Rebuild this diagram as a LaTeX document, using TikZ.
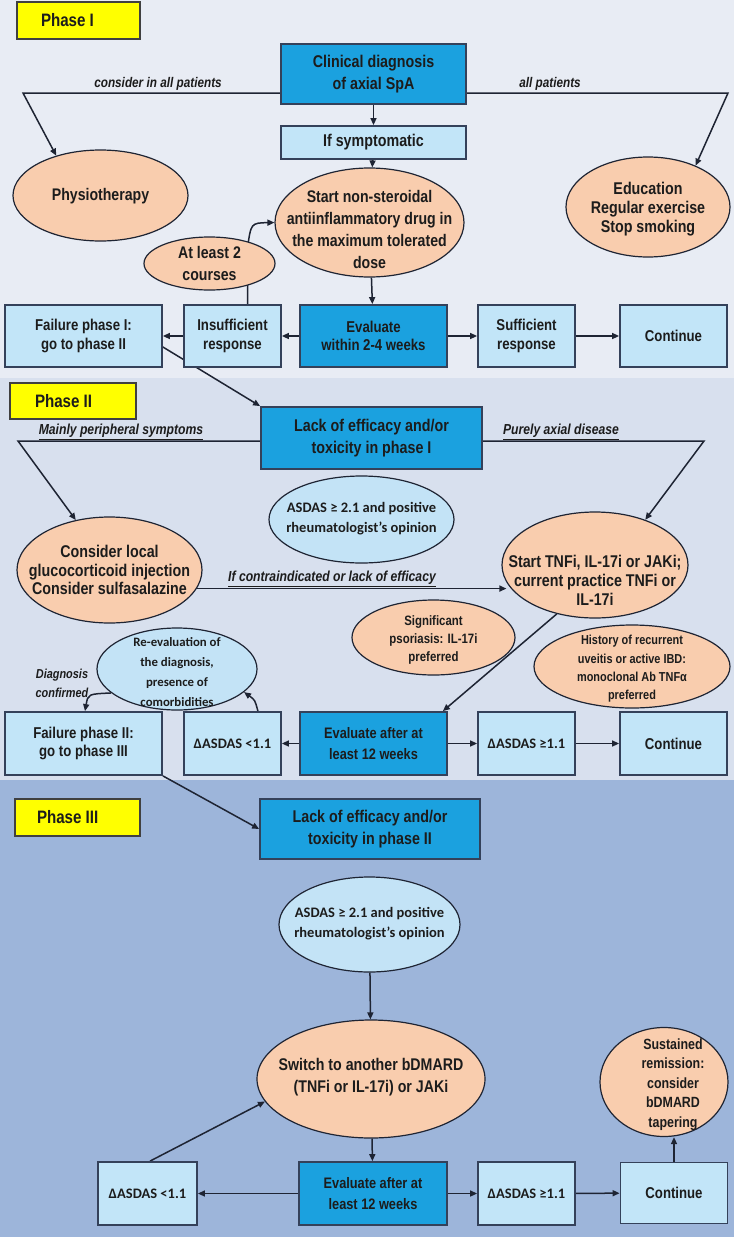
\documentclass[tikz,border=0pt]{standalone}
\usepackage{fontspec}
\setmainfont{Liberation Sans}[FakeStretch=0.84]
\newfontfamily\calfont{Carlito}
\usetikzlibrary{shapes.geometric,arrows.meta,calc}
\pgfdeclarelayer{back}
\pgfdeclarelayer{edges}
\pgfsetlayers{back,edges,main}
\definecolor{bgA}{HTML}{E8ECF4}
\definecolor{bgB}{HTML}{D8E0EE}
\definecolor{bgC}{HTML}{9DB5DA}
\definecolor{dkbox}{HTML}{1BA1DF}
\definecolor{ltbox}{HTML}{C2E5F8}
\definecolor{peach}{HTML}{F9CDAE}
\definecolor{ltell}{HTML}{C3E3F6}
\definecolor{ink}{HTML}{1E2433}
\definecolor{bord}{HTML}{34415A}
\definecolor{yel}{HTML}{FFFF00}
\definecolor{txt}{HTML}{1C1C1C}
\newcommand{\ct}[2][0pt]{\raisebox{\dimexpr#1-5pt\relax}[0pt][0pt]{\makebox[0pt]{\begin{tabular}{@{}c@{}}#2\end{tabular}}}}
\newcommand{\ctx}[3]{\raisebox{\dimexpr#2-5pt\relax}[0pt][0pt]{\makebox[0pt]{\hspace*{#1}\begin{tabular}{@{}c@{}}#3\end{tabular}}}}
\tikzset{
  box/.style={draw=bord, line width=1.8pt, inner sep=0pt, align=center, text=txt,
    font=\bfseries\fontsize{15.7}{18.3}\selectfont},
  dbox/.style={box, fill=dkbox},
  lbox/.style={box, fill=ltbox},
  oval/.style={ellipse, draw=ink, line width=1.2pt, inner sep=0pt, fill=peach, text=txt,
    font=\bfseries\fontsize{16.8}{21.7}\selectfont},
  bval/.style={oval, fill=ltell},
  phase/.style={draw=black!75, line width=1.8pt, fill=yel, inner sep=0pt, text=txt,
    font=\bfseries\fontsize{18}{20}\selectfont},
  ln/.style={draw=ink, line width=1.5pt},
  arr/.style={ln, -{Triangle[length=7pt,width=6pt]}},
  lab/.style={inner sep=1pt, text=txt, font=\bfseries\itshape\fontsize{14}{16}\selectfont},
  big/.style={font=\bfseries\fontsize{17}{22}\selectfont},
  asd/.style={font=\calfont\bfseries\fontsize{14.5}{20}\selectfont},
}
\begin{document}
\begin{tikzpicture}[x=1pt,y=-1pt]
\useasboundingbox (0,0) rectangle (734,1237);
\begin{pgfonlayer}{back}
\fill[bgA] (0,0) rectangle (734,378);
\fill[bgB] (0,378) rectangle (734,780);
\fill[bgC] (0,780) rectangle (734,1237);
\end{pgfonlayer}

% ---------------- Phase I
\node[phase, minimum width=123pt, minimum height=37pt] (p1) at (78.5,20.5) {\makebox[75pt][l]{Phase I}};
\node[dbox, big, minimum width=185pt, minimum height=60pt] (clin) at (373.5,74) {Clinical diagnosis\\of axial SpA};
\node[lbox, big, minimum width=185pt, minimum height=33pt] (symp) at (373.5,142.5) {If symptomatic};
\node[oval, minimum width=175pt, minimum height=91pt] (physio) at (100.5,195.5) {\ct{Physiotherapy}};
\node[oval, minimum width=189pt, minimum height=109pt] (nsaid) at (369.5,222.5) {\ct[-8pt]{Start non-steroidal\\antiinflammatory drug in\\the maximum tolerated\\dose}};
\node[oval, minimum width=164pt, minimum height=100pt, font=\bfseries\fontsize{17}{18.6}\selectfont] (edu) at (648,207) {\ct[-2pt]{Education\\Regular exercise\\Stop smoking}};
\node[oval, minimum width=131pt, minimum height=53pt] (courses) at (209.5,263.5) {\ct[-1pt]{At least 2\\courses}};

\node[lbox, minimum width=157pt, minimum height=62pt] (fail1) at (83.5,336) {Failure phase I:\\go to phase II};
\node[lbox, minimum width=97pt, minimum height=62pt] (insuf) at (232.5,336) {Insufficient\\response};
\node[dbox, minimum width=147pt, minimum height=62pt] (eval1) at (373.5,336) {Evaluate\\within 2-4 weeks};
\node[lbox, minimum width=97pt, minimum height=62pt] (suff) at (526.5,336) {Sufficient\\response};
\node[lbox, minimum width=107pt, minimum height=62pt] (cont1) at (673.5,336) {Continue};

\node[lab] (t1) at (158,84) {consider in all patients};
\node[lab] (t2) at (550,84) {all patients};

% ---------------- Phase II
\node[phase, minimum width=126pt, minimum height=36pt] (p2) at (73,401) {\makebox[76pt][l]{Phase II}};
\node[dbox, font=\bfseries\fontsize{17}{21.7}\selectfont, minimum width=221pt, minimum height=62pt] (lack1) at (371.5,438) {Lack of efficacy and/or\\toxicity in phase I};
\node[bval, asd, minimum width=185pt, minimum height=87pt] (asd2) at (361.5,519.5) {\ct[2pt]{ASDAS ≥ 2.1 and positive\\rheumatologist’s opinion}};
\node[oval, font=\bfseries\fontsize{17}{18.5}\selectfont, minimum width=185pt, minimum height=106pt] (cons) at (109.5,570) {\ct[-2pt]{Consider local\\glucocorticoid injection\\Consider sulfasalazine}};
\node[oval, font=\bfseries\fontsize{17}{18.7}\selectfont, minimum width=186pt, minimum height=106pt] (tnfi) at (595,565) {\ct[-17pt]{Start TNFi, IL-17i or JAKi;\\current practice TNFi or\\IL-17i}};
\node[oval, font=\bfseries\fontsize{13.6}{18.3}\selectfont, minimum width=163pt, minimum height=75pt] (psor) at (433.5,637.5) {\ct[-1pt]{Significant\\psoriasis: IL-17i\\preferred}};
\node[oval, font=\bfseries\fontsize{13}{18.3}\selectfont, minimum width=196pt, minimum height=83pt] (hist) at (632,666.5) {\ct{History of recurrent\\uveitis or active IBD:\\monoclonal Ab TNFα\\preferred}};
\node[bval, font=\calfont\bfseries\fontsize{12.8}{20}\selectfont, minimum width=160pt, minimum height=82pt] (reev) at (177,669) {\ct[-1pt]{Re-evaluation of\\the diagnosis,\\presence of\\comorbidities}};

\node[lbox, minimum width=157pt, minimum height=63pt] (fail2) at (83.5,743.5) {Failure phase II:\\go to phase III};
\node[lbox, font=\calfont\bfseries\fontsize{14.5}{18}\selectfont, minimum width=97pt, minimum height=63pt] (dl2) at (232.5,743.5) {ΔASDAS <1.1};
\node[dbox, font=\bfseries\fontsize{15.2}{20.7}\selectfont, minimum width=147pt, minimum height=63pt] (eval2) at (373.5,743.5) {Evaluate after at\\least 12 weeks};
\node[lbox, font=\calfont\bfseries\fontsize{14.5}{18}\selectfont, minimum width=97pt, minimum height=63pt] (dg2) at (526.5,743.5) {ΔASDAS ≥1.1};
\node[lbox, minimum width=107pt, minimum height=63pt] (cont2) at (673.5,743.5) {Continue};

\node[lab, font=\bfseries\itshape\fontsize{14.5}{16}\selectfont] (t3) at (121,432) {\underline{Mainly peripheral symptoms}};
\node[lab, font=\bfseries\itshape\fontsize{14.5}{16}\selectfont] (t4) at (561,432) {\underline{Purely axial disease}};
\node[lab, font=\bfseries\itshape\fontsize{14.5}{16}\selectfont] (t5) at (332,579) {\underline{If contraindicated or lack of efficacy}};
\node[lab, align=center, font=\bfseries\itshape\fontsize{13}{19}\selectfont] (t6) at (62,683) {Diagnosis\\confirmed};

% ---------------- Phase III
\node[phase, minimum width=125pt, minimum height=37pt] (p3) at (77.5,817.5) {\makebox[81pt][l]{Phase III}};
\node[dbox, font=\bfseries\fontsize{17}{21.7}\selectfont, minimum width=220pt, minimum height=60pt] (lack2) at (370,829) {Lack of efficacy and/or\\toxicity in phase II};
\node[bval, asd, minimum width=181pt, minimum height=95pt] (asd3) at (369.5,924.5) {\ct[2pt]{ASDAS ≥ 2.1 and positive\\rheumatologist’s opinion}};
\node[oval, font=\bfseries\fontsize{16.9}{22}\selectfont, minimum width=228pt, minimum height=118pt] (switch) at (371,1079) {\ct[3pt]{Switch to another bDMARD\\(TNFi or IL-17i) or JAKi}};
\node[oval, font=\bfseries\fontsize{14.8}{19.5}\selectfont, minimum width=128pt, minimum height=109pt] (sust) at (664,1082) {\ctx{18pt}{-1pt}{Sustained\\remission:\\consider\\bDMARD\\tapering}};

\node[lbox, font=\calfont\bfseries\fontsize{14.5}{18}\selectfont, minimum width=99pt, minimum height=63pt] (dl3) at (147.5,1193.5) {ΔASDAS <1.1};
\node[dbox, font=\bfseries\fontsize{15.2}{20.7}\selectfont, minimum width=148pt, minimum height=63pt] (eval3) at (373,1193.5) {Evaluate after at\\least 12 weeks};
\node[lbox, font=\calfont\bfseries\fontsize{14.5}{18}\selectfont, minimum width=97pt, minimum height=63pt] (dg3) at (526.5,1193.5) {ΔASDAS ≥1.1};
\node[lbox, minimum width=107pt, minimum height=61pt] (cont3) at (674,1193) {Continue};

% ---------------- connectors
\begin{pgfonlayer}{edges}
\coordinate (l1) at (23,93);
\coordinate (r1) at (728,93);
\draw[arr] (clin.west |- l1) -- (l1) -- (physio.138);
\draw[arr] (clin.east |- r1) -- (r1) -- (edu.41);
\draw[arr] (clin) -- (symp);
\draw[arr] (symp) -- (nsaid);
\draw[arr] (nsaid) -- (eval1);
\draw[arr] (eval1) -- (insuf);
\draw[arr] (insuf) -- (fail1);
\draw[arr] (eval1) -- (suff);
\draw[arr] (suff) -- (cont1);
\coordinate (k1) at (247.5,248);
\draw[arr] (insuf.north -| k1) -- (k1) .. controls (251,223) .. (nsaid.west);
\draw[arr] ($(fail1.east)+(0,11)$) -- (lack1.north west);

\coordinate (l2) at (18,441);
\coordinate (r2) at (704,441);
\draw[arr] (lack1.west |- l2) -- (l2) -- (cons.124);
\draw[arr] (lack1.east |- r2) -- (r2) -- (tnfi.42);
\draw[arr] (cons.-12) -- ($(cons.-12 -| tnfi.west)+(5,0)$);
\draw[arr] (tnfi.232) -- ($(eval2.north east)+(-5,0)$);
\draw[arr] (eval2) -- (dl2);
\draw[arr] (eval2) -- (dg2);
\draw[arr] (dg2) -- (cont2);
\draw[arr] ($(dl2.north east)+(-24,0)$) .. controls (255,700) .. (reev.-19);
\draw[arr] (reev.200) .. controls (88,694) .. ($(fail2.north)+(1.5,0)$);
\draw[arr] (fail2.south east) -- (lack2.west);

\draw[arr] (asd3) -- (switch);
\draw[arr] (switch) -- (eval3);
\draw[arr] (eval3) -- (dl3);
\draw[arr] (eval3) -- (dg3);
\draw[arr] (dg3) -- (cont3);
\draw[arr] (cont3.north) -- (sust.south -| cont3.north);
\draw[arr] ($(dl3.north)+(2.5,0)$) -- (switch.192);
\end{pgfonlayer}
\end{tikzpicture}
\end{document}
